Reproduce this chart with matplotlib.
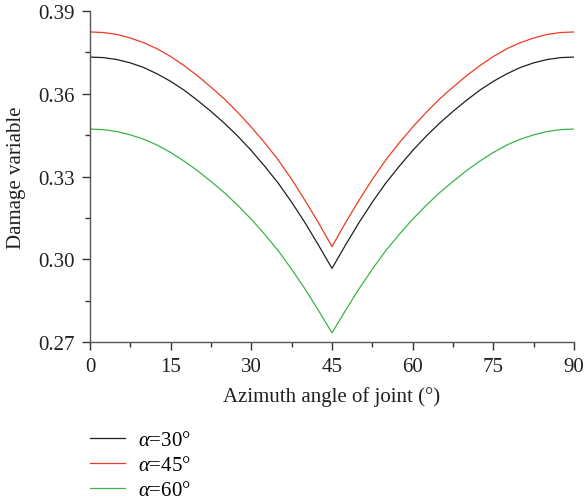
import matplotlib
matplotlib.use("Agg")
import matplotlib.pyplot as plt
from matplotlib.ticker import MultipleLocator, FormatStrFormatter

plt.rcParams["font.family"] = ["Liberation Serif", "DejaVu Serif"]
plt.rcParams["mathtext.fontset"] = "custom"
plt.rcParams["mathtext.rm"] = "Liberation Serif"
plt.rcParams["mathtext.it"] = "Liberation Serif:italic"

# azimuth angle of joint (deg)
angle = [0, 2.5, 5, 7.5, 10, 12.5, 15, 17.5, 20, 22.5, 25, 27.5, 30, 32.5, 35, 37.5, 40, 42.5,
         45, 47.5, 50, 52.5, 55, 57.5, 60, 62.5, 65, 67.5, 70, 72.5, 75, 77.5, 80, 82.5, 85,
         87.5, 90]

# damage variable for each dip angle alpha
d_30 = [0.3733, 0.3731, 0.3724, 0.3712, 0.3695, 0.3672, 0.3645, 0.3613, 0.3576, 0.3536,
        0.3493, 0.3446, 0.3394, 0.3337, 0.3276, 0.3207, 0.3132, 0.3051, 0.2967, 0.3051,
        0.3132, 0.3207, 0.3276, 0.3337, 0.3394, 0.3446, 0.3493, 0.3536, 0.3576, 0.3613,
        0.3645, 0.3672, 0.3695, 0.3712, 0.3724, 0.3731, 0.3733]
d_45 = [0.3824, 0.3822, 0.3815, 0.3802, 0.3785, 0.3763, 0.3735, 0.3702, 0.3665, 0.3624,
        0.3581, 0.3532, 0.3479, 0.3422, 0.3360, 0.3290, 0.3213, 0.3132, 0.3046, 0.3132,
        0.3213, 0.3290, 0.3360, 0.3422, 0.3479, 0.3532, 0.3581, 0.3624, 0.3665, 0.3702,
        0.3735, 0.3763, 0.3785, 0.3802, 0.3815, 0.3822, 0.3824]
d_60 = [0.3472, 0.3470, 0.3463, 0.3451, 0.3435, 0.3414, 0.3387, 0.3356, 0.3321, 0.3282,
        0.3241, 0.3195, 0.3145, 0.3090, 0.3031, 0.2964, 0.2892, 0.2814, 0.2733, 0.2814,
        0.2892, 0.2964, 0.3031, 0.3090, 0.3145, 0.3195, 0.3241, 0.3282, 0.3321, 0.3356,
        0.3387, 0.3414, 0.3435, 0.3451, 0.3463, 0.3470, 0.3472]

series = [
    (d_30, r"$\alpha$=30°", "#231f20"),
    (d_45, r"$\alpha$=45°", "#ee3a24"),
    (d_60, r"$\alpha$=60°", "#3cb44a"),
]

fs = 15

fig = plt.figure(figsize=(5.87, 5.02), dpi=100)
ax = fig.add_axes([0.1533, 0.3167, 0.8245, 0.6594])

for vals, lab, col in series:
    ax.plot(angle, vals, color=col, lw=0.9, label=lab)

ax.set_xlim(0, 90)
ax.set_ylim(0.27, 0.39)
ax.xaxis.set_major_locator(MultipleLocator(15))
ax.xaxis.set_minor_locator(MultipleLocator(7.5))
ax.yaxis.set_major_locator(MultipleLocator(0.03))
ax.yaxis.set_minor_locator(MultipleLocator(0.015))
ax.yaxis.set_major_formatter(FormatStrFormatter("%.2f"))

for side in ["top", "right"]:
    ax.spines[side].set_visible(False)
for side in ["left", "bottom"]:
    ax.spines[side].set_color("#555555")
    ax.spines[side].set_linewidth(1.0)

ax.tick_params(which="major", direction="out", length=6, width=1.0,
               color="#333333", labelsize=fs, labelcolor="#231f20", pad=5)
ax.tick_params(which="minor", direction="out", length=3.5, width=1.0, color="#333333")

ax.set_xlabel("Azimuth angle of joint (°)", fontsize=fs, color="#231f20", labelpad=7)
ax.set_ylabel("Damage variable", fontsize=fs, color="#231f20", labelpad=9)

fig.legend(loc="upper left", bbox_to_anchor=(0.153, 0.140), frameon=False,
           fontsize=fs, handlelength=1.68, handletextpad=0.62,
           labelspacing=0.25, borderaxespad=0, borderpad=0)

fig.savefig("out.png", dpi=100)
plt.close(fig)
